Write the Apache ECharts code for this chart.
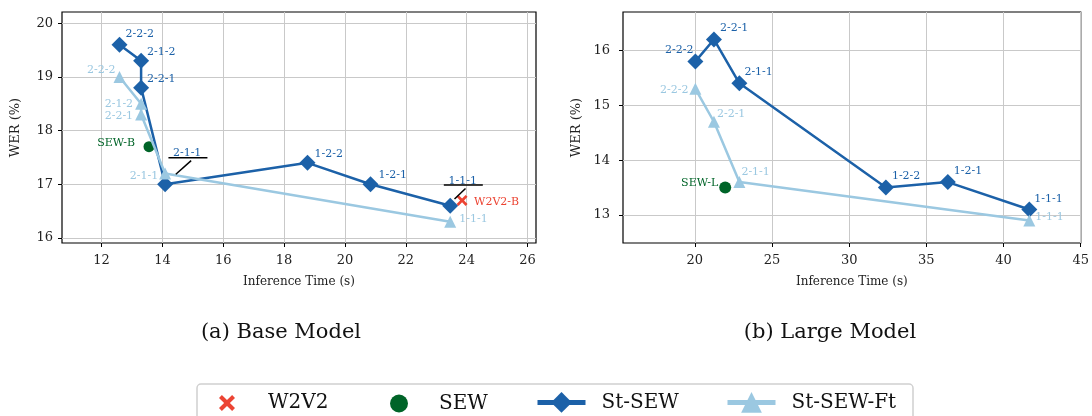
<!DOCTYPE html>
<html lang="en">
<head>
<meta charset="utf-8">
<title>St-SEW: WER vs inference time</title>
<script src="https://cdn.jsdelivr.net/npm/echarts@6/dist/echarts.min.js"></script>
<style>
  html, body { margin: 0; padding: 0; background: #fff; }
  #main { width: 1092px; height: 416px; }
</style>
</head>
<body>
<div id="main"></div>
<script>
// (a) Base model
var baseStNames = ['2-2-2', '2-1-2', '2-2-1', '2-1-1', '1-2-2', '1-2-1', '1-1-1'];
var baseStTime  = [12.59, 13.3, 13.3, 14.09, 18.77, 20.84, 23.46];
var baseStWer   = [19.6, 19.3, 18.8, 17.0, 17.4, 17.0, 16.6];
var baseFtNames = ['2-2-2', '2-1-2', '2-2-1', '2-1-1', '1-1-1'];
var baseFtTime  = [12.59, 13.3, 13.3, 14.09, 23.46];
var baseFtWer   = [19.0, 18.5, 18.3, 17.2, 16.3];
var baseSew  = [13.56, 17.7];
var baseW2v2 = [23.85, 16.7];
var baseXTicks = [12, 14, 16, 18, 20, 22, 24, 26];
var baseYTicks = [16, 17, 18, 19, 20];

// (b) Large model
var largeStNames = ['2-2-2', '2-2-1', '2-1-1', '1-2-2', '1-2-1', '1-1-1'];
var largeStTime  = [20.04, 21.24, 22.89, 32.38, 36.39, 41.67];
var largeStWer   = [15.8, 16.2, 15.4, 13.5, 13.6, 13.1];
var largeFtNames = ['2-2-2', '2-2-1', '2-1-1', '1-1-1'];
var largeFtTime  = [20.04, 21.24, 22.89, 41.67];
var largeFtWer   = [15.3, 14.7, 13.6, 12.9];
var largeSew = [21.97, 13.5];
var largeXTicks = [20, 25, 30, 35, 40, 45];
var largeYTicks = [13, 14, 15, 16];

// colours / fonts
var DARK = '#1c61a8', LIGHT = '#9bc8e1', GREEN = '#006428', RED = '#ec4433';
var SERIF = '"DejaVu Serif", serif';

// label placement: [align, dx, dy] from the marker centre (null = annotated separately)
var baseStLab  = [['left', 6, -11], ['left', 6, -9], ['left', 6, -9], null, ['left', 7, -9], ['left', 8, -9], null];
var baseFtLab  = [['right', -4, -7], ['right', -8, 0], ['right', -8, 2], ['right', -7, 3], ['left', 9, -3]];
var largeStLab = [['right', -2, -11], ['left', 6, -11], ['left', 5, -11], ['left', 6, -11], ['left', 6, -11], ['left', 5, -10]];
var largeFtLab = [['right', -7, 1], ['left', 3, -8], ['left', 2, -10], ['left', 6, -3]];

// underlined annotations with a leader line (base model, St-SEW)
var noteNames = ['2-1-1', '1-1-1'];
var noteStyle = [
    { text: [22, -31.5], under: [3.3, 42.3, -26.6], lead: [26, -23.6, 10.7, -10] },
    { text: [12.6, -25], under: [-6.4, 32.6, -20.7], lead: [15.3, -17.3, 4.3, -6.7] }
];

// matplotlib-like 'x' marker
var X_PATH = 'path://M0,1.8L1.8,0L5,3.2L8.2,0L10,1.8L6.8,5L10,8.2L8.2,10L5,6.8L1.8,10L0,8.2L3.2,5Z';

function points(xs, ys, names, labs) {
    return xs.map(function (x, i) {
        var l = labs[i];
        return {
            value: [x, ys[i]],
            name: names[i],
            label: l ? { show: true, position: 'inside', align: l[0], verticalAlign: 'middle', offset: [l[1], l[2]] }
                     : { show: false }
        };
    });
}

function single(pt, name, lab) {
    return [{ value: pt, name: name,
        label: { show: true, position: 'inside', align: lab[0], verticalAlign: 'middle', offset: [lab[1], lab[2]] } }];
}

function labelStyle(color) {
    return { show: true, formatter: '{b}', color: color, fontFamily: SERIF, fontSize: 11 };
}

function xAxis(idx, min, max, ticks) {
    return {
        type: 'value', gridIndex: idx, min: min, max: max,
        minInterval: ticks[1] - ticks[0], maxInterval: ticks[1] - ticks[0],
        name: 'Inference Time (s)', nameLocation: 'middle', nameGap: 33,
        nameTextStyle: { fontFamily: SERIF, fontSize: 12, color: '#222' },
        axisLine: { show: false },
        axisTick: { show: true, length: 4, customValues: ticks, lineStyle: { color: '#000', width: 1 } },
        axisLabel: { customValues: ticks, margin: 11, fontFamily: SERIF, fontSize: 13, color: '#222' },
        splitLine: { show: true, lineStyle: { color: '#c9c9c9', width: 1 } }
    };
}

function yAxis(idx, min, max, ticks, margin) {
    return {
        type: 'value', gridIndex: idx, min: min, max: max,
        minInterval: 1, maxInterval: 1,
        name: 'WER (%)', nameLocation: 'middle', nameGap: 40,
        nameTextStyle: { fontFamily: SERIF, fontSize: 13, color: '#222' },
        axisLine: { show: false },
        axisTick: { show: true, length: 4, customValues: ticks, lineStyle: { color: '#000', width: 1 } },
        axisLabel: { customValues: ticks, margin: margin, fontFamily: SERIF, fontSize: 13, color: '#222' },
        splitLine: { show: true, lineStyle: { color: '#c9c9c9', width: 1 } }
    };
}

function stLine(name, idx, data) {
    return {
        name: name, type: 'line', xAxisIndex: idx, yAxisIndex: idx, data: data,
        symbol: 'diamond', symbolSize: 16, showAllSymbol: true,
        itemStyle: { color: DARK, opacity: 1 }, lineStyle: { color: DARK, width: 2.5 },
        label: labelStyle(DARK), z: 3
    };
}

function ftLine(name, idx, data) {
    return {
        name: name, type: 'line', xAxisIndex: idx, yAxisIndex: idx, data: data,
        symbol: 'triangle', symbolSize: 12, showAllSymbol: true,
        itemStyle: { color: LIGHT, opacity: 1 }, lineStyle: { color: LIGHT, width: 2.5 },
        label: labelStyle(LIGHT), z: 4
    };
}

var chart = echarts.init(document.getElementById('main'), null, { renderer: 'canvas' });

chart.setOption({
    animation: false,
    backgroundColor: '#fff',
    grid: [
        { left: 62, right: 556, top: 12, bottom: 173, show: true, borderColor: '#000', borderWidth: 1.2, backgroundColor: 'transparent' },
        { left: 623, right: 7, top: 12, bottom: 173, show: true, borderColor: '#000', borderWidth: 1.2, backgroundColor: 'transparent' }
    ],
    xAxis: [
        xAxis(0, 10.7, 26.28, baseXTicks),
        xAxis(1, 15.35, 45, largeXTicks)
    ],
    yAxis: [
        yAxis(0, 15.906, 20.21, baseYTicks, 9),
        yAxis(1, 12.49, 16.7, largeYTicks, 13)
    ],
    legend: [
        { data: ['W2V2'], left: 219, top: 393, itemWidth: 16, itemHeight: 16, padding: 0, selectedMode: false, z: 5,
          itemStyle: { opacity: 1 },
          textStyle: { fontFamily: SERIF, fontSize: 20, color: '#111', padding: [0, 0, 0, 28] } },
        { data: ['SEW'], left: 390, top: 393.5, itemWidth: 18, itemHeight: 18, padding: 0, selectedMode: false, z: 5,
          itemStyle: { opacity: 1 },
          textStyle: { fontFamily: SERIF, fontSize: 20, color: '#111', padding: [0, 0, 0, 26] } },
        { data: ['St-SEW'], left: 535, top: 392, itemWidth: 48, itemHeight: 26, padding: 0, selectedMode: false, z: 5,
          lineStyle: { width: 5 },
          textStyle: { fontFamily: SERIF, fontSize: 20, color: '#111', padding: [0, 0, 0, 11] } },
        { data: ['St-SEW-Ft'], left: 725, top: 392, itemWidth: 48, itemHeight: 26, padding: 0, selectedMode: false, z: 5,
          lineStyle: { width: 5 },
          textStyle: { fontFamily: SERIF, fontSize: 20, color: '#111', padding: [0, 0, 0, 11] } }
    ],
    graphic: [
        { type: 'rect', z: 0, shape: { x: 197, y: 384, width: 716, height: 60, r: 4 },
          style: { fill: '#fff', stroke: '#d0d0d0', lineWidth: 1.5 } },
        { type: 'text', x: 281, y: 333, style: { text: '(a) Base Model', font: '21px ' + SERIF, fill: '#111', align: 'center', verticalAlign: 'middle' } },
        { type: 'text', x: 830, y: 333, style: { text: '(b) Large Model', font: '21px ' + SERIF, fill: '#111', align: 'center', verticalAlign: 'middle' } }
    ],
    series: [
        {
            name: 'W2V2', type: 'scatter', xAxisIndex: 0, yAxisIndex: 0,
            data: single(baseW2v2, 'W2V2-B', ['left', 12, 2]),
            symbol: X_PATH, symbolSize: 11, itemStyle: { color: RED, opacity: 1 },
            label: labelStyle(RED), z: 5
        },
        {
            name: 'SEW', type: 'scatter', xAxisIndex: 0, yAxisIndex: 0,
            data: single(baseSew, 'SEW-B', ['right', -14, -4]),
            symbol: 'circle', symbolSize: 11, itemStyle: { color: GREEN, opacity: 1 },
            label: labelStyle(GREEN), z: 2
        },
        {
            name: 'SEW', type: 'scatter', xAxisIndex: 1, yAxisIndex: 1,
            data: single(largeSew, 'SEW-L', ['right', -7, -4]),
            symbol: 'circle', symbolSize: 12, itemStyle: { color: GREEN, opacity: 1 },
            label: labelStyle(GREEN), z: 2
        },
        stLine('St-SEW', 0, points(baseStTime, baseStWer, baseStNames, baseStLab)),
        stLine('St-SEW', 1, points(largeStTime, largeStWer, largeStNames, largeStLab)),
        ftLine('St-SEW-Ft', 0, points(baseFtTime, baseFtWer, baseFtNames, baseFtLab)),
        ftLine('St-SEW-Ft', 1, points(largeFtTime, largeFtWer, largeFtNames, largeFtLab)),
        {
            type: 'custom', xAxisIndex: 0, yAxisIndex: 0, z: 6, silent: true,
            data: noteNames.map(function (n) {
                var i = baseStNames.indexOf(n);
                return [baseStTime[i], baseStWer[i]];
            }),
            renderItem: function (params, api) {
                var s = noteStyle[params.dataIndex];
                var p = api.coord([api.value(0), api.value(1)]);
                return {
                    type: 'group',
                    children: [
                        { type: 'line', shape: { x1: p[0] + s.under[0], y1: p[1] + s.under[2], x2: p[0] + s.under[1], y2: p[1] + s.under[2] },
                          style: { stroke: '#000', lineWidth: 1.5 } },
                        { type: 'line', shape: { x1: p[0] + s.lead[0], y1: p[1] + s.lead[1], x2: p[0] + s.lead[2], y2: p[1] + s.lead[3] },
                          style: { stroke: '#000', lineWidth: 1.5 } },
                        { type: 'text', x: p[0] + s.text[0], y: p[1] + s.text[1],
                          style: { text: noteNames[params.dataIndex], fill: DARK, fontFamily: SERIF, fontSize: 11,
                                   align: 'center', verticalAlign: 'middle' } }
                    ]
                };
            }
        }
    ]
});
</script>
</body>
</html>
